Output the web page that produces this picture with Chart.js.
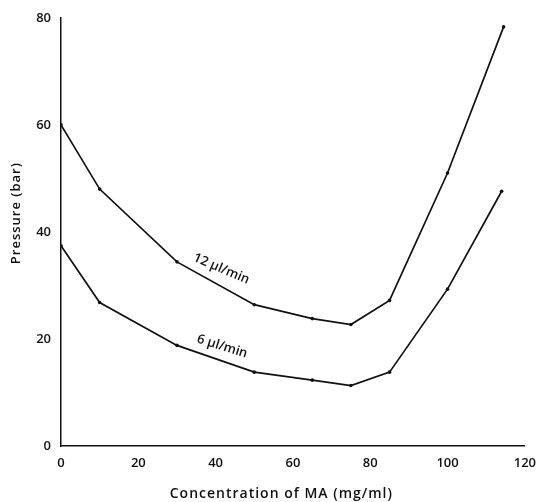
<!DOCTYPE html>
<html>
<head>
<meta charset="utf-8">
<script src="https://cdn.jsdelivr.net/npm/chart.js@4"></script>
<style>
  html, body { margin: 0; padding: 0; background: #fff; }
  #wrap { width: 545px; height: 502px; }
</style>
</head>
<body>
<div id="wrap"><canvas id="pressureChart" width="545" height="502"></canvas></div>
<script>
// values
const flow12X = [0, 10, 30, 50, 65, 75, 85, 100, 114.5];
const flow12Y = [60, 48, 34.4, 26.4, 23.8, 22.7, 27.2, 51, 78.3];
const flow6X = [0, 10, 30, 50, 65, 75, 85, 100, 114];
const flow6Y = [37.4, 26.8, 18.8, 13.8, 12.3, 11.3, 13.8, 29.3, 47.6];
const xTicks = [0, 20, 40, 60, 80, 100, 120];
const yTicks = [0, 20, 40, 60, 80];

const xTitle = 'Concentration of MA (mg/ml)';
const yTitle = 'Pressure (bar)';

const curveLabels = [
    { text: '12 \u00b5l/min', x: 41.5, y: 33.1, angle: 23 },
    { text: '6 \u00b5l/min', x: 41.7, y: 18.6, angle: 17 }
];

const toPoints = (xs, ys) => xs.map((x, i) => ({ x, y: ys[i] }));

const fontFamily = '"Open Sans", "DejaVu Sans", sans-serif';

// curve labels and axis titles, placed off the scales
const textPlugin = {
    id: 'figureText',
    afterDatasetsDraw(chart) {
        const { ctx, scales, chartArea } = chart;
        ctx.save();
        ctx.fillStyle = '#111';
        ctx.textAlign = 'center';
        ctx.textBaseline = 'middle';

        ctx.font = `600 13px ${fontFamily}`;
        curveLabels.forEach((lbl) => {
            ctx.save();
            ctx.translate(scales.x.getPixelForValue(lbl.x), scales.y.getPixelForValue(lbl.y));
            ctx.rotate(lbl.angle * Math.PI / 180);
            ctx.fillText(lbl.text, 0, 0);
            ctx.restore();
        });

        ctx.letterSpacing = '1px';
        ctx.font = `600 14px ${fontFamily}`;
        ctx.fillText(xTitle, scales.x.getPixelForValue(57), chartArea.bottom + 48);

        ctx.font = `600 13px ${fontFamily}`;
        ctx.save();
        ctx.translate(16, scales.y.getPixelForValue(43.5));
        ctx.rotate(-Math.PI / 2);
        ctx.fillText(yTitle, 0, 0);
        ctx.restore();

        ctx.restore();
    }
};

const lineStyle = {
    borderColor: '#111',
    backgroundColor: '#111',
    borderWidth: 1.7,
    pointRadius: 1.8,
    pointBorderWidth: 0,
    tension: 0,
    fill: false
};

new Chart(document.getElementById('pressureChart'), {
    type: 'line',
    data: {
        datasets: [
            { label: '12 \u00b5l/min', data: toPoints(flow12X, flow12Y), ...lineStyle },
            { label: '6 \u00b5l/min', data: toPoints(flow6X, flow6Y), ...lineStyle }
        ]
    },
    options: {
        responsive: false,
        animation: false,
        layout: { padding: { top: 16, right: 12, left: 0, bottom: 0 } },
        scales: {
            x: {
                type: 'linear',
                min: 0,
                max: 120,
                afterBuildTicks: (scale) => { scale.ticks = xTicks.map((v) => ({ value: v })); },
                afterFit: (scale) => { scale.height = 56; },
                grid: { display: false, drawTicks: false },
                border: { display: true, color: '#111', width: 1.5 },
                ticks: { color: '#111', padding: 9, font: { family: fontFamily, size: 13, weight: '600' } }
            },
            y: {
                type: 'linear',
                min: 0,
                max: 80,
                afterBuildTicks: (scale) => { scale.ticks = yTicks.map((v) => ({ value: v })); },
                afterFit: (scale) => { scale.width = 61; },
                grid: { display: false, drawTicks: false },
                border: { display: true, color: '#111', width: 1.5 },
                ticks: { color: '#111', padding: 10, font: { family: fontFamily, size: 13, weight: '600' } }
            }
        },
        plugins: {
            legend: { display: false },
            tooltip: { enabled: false }
        }
    },
    plugins: [textPlugin]
});
</script>
</body>
</html>
